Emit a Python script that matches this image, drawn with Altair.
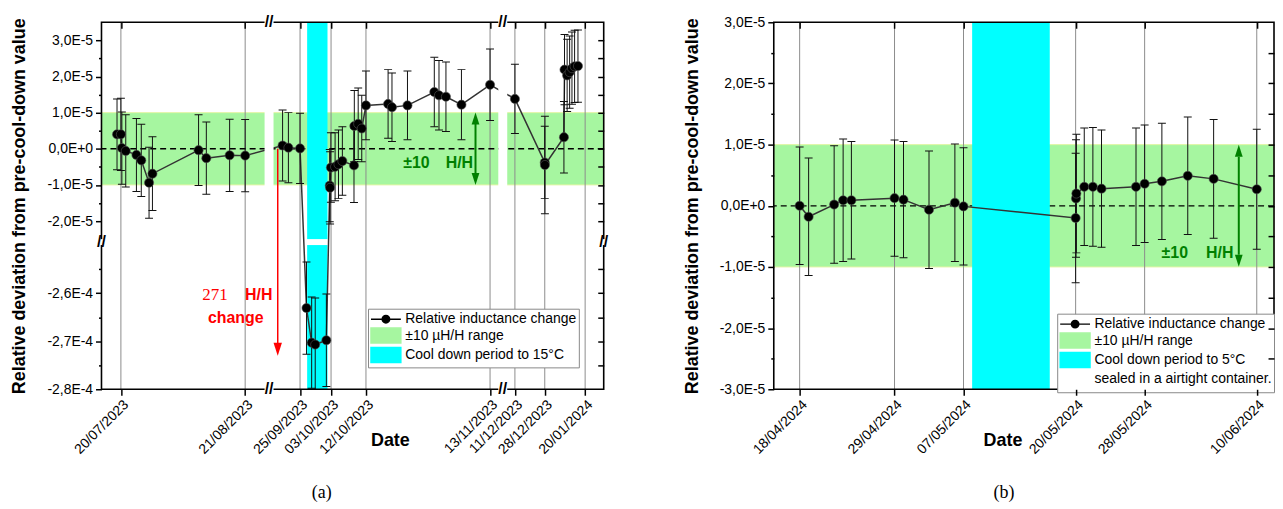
import altair as alt
import pandas as pd
from datetime import datetime, timezone

FONT = "Liberation Sans"
SERIF = "Liberation Serif"
GREEN = "#a6f6a0"
GREEN_EDGE = "#e2f5a4"
CYAN = "#00ffff"
DKGREEN = "#008000"
RED = "#ff0000"
GRID = "#8c8c8c"
E = 1e-5

# ---------------- Panel (a) data (values and errors in units of 1e-5) ----------------
a_dates = [
    "2023-07-19T00:00", "2023-07-20T00:00", "2023-07-20T06:00", "2023-07-21T06:00",
    "2023-07-24T00:00", "2023-07-25T06:00", "2023-07-27T06:00", "2023-07-28T03:00",
    "2023-08-09T00:00", "2023-08-11T00:00", "2023-08-17T00:00", "2023-08-21T00:00",
    "2023-09-20T12:00", "2023-09-22T00:00", "2023-09-25T00:00",
    "2023-09-26T16:00", "2023-09-28T00:00", "2023-09-28T22:00", "2023-10-01T19:00",
    "2023-10-02T16:00", "2023-10-02T18:00", "2023-10-02T23:00",
    "2023-10-04T01:00", "2023-10-04T22:00", "2023-10-05T22:00",
    "2023-10-08T22:00", "2023-10-09T00:00", "2023-10-10T00:00", "2023-10-10T22:00",
    "2023-10-12T00:00", "2023-10-17T17:00", "2023-10-18T17:00", "2023-10-22T17:00",
    "2023-10-29T15:00", "2023-10-30T20:00", "2023-11-01T15:00", "2023-11-05T15:00",
    "2023-11-13T00:00",
    "2023-12-11T00:00", "2023-12-28T00:00", "2023-12-28T02:00",
    "2024-01-07T22:00", "2024-01-08T06:00", "2024-01-09T18:00", "2024-01-11T04:00",
    "2024-01-12T12:00", "2024-01-14T00:00", "2024-01-15T22:00",
]
a_values = [
    0.40, 0.40, 0.02, -0.06,
    -0.17, -0.32, -0.94, -0.69,
    -0.04, -0.26, -0.18, -0.19,
    0.09, 0.03, 0.01,
    -26.31, -27.03, -27.07, -26.98,
    -1.02, -1.08, -0.52,
    -0.50, -0.43, -0.34,
    -0.46, 0.63, 0.69, 0.56,
    1.20, 1.24, 1.15, 1.20,
    1.57, 1.48, 1.44, 1.22,
    1.77,
    1.38, -0.38, -0.45,
    0.32, 2.19, 2.03, 2.12,
    2.23, 2.28, 2.29,
]
a_errors = [
    0.98, 1.00, 1.00, 1.00,
    1.01, 1.00, 0.98, 1.02,
    0.98, 1.00, 1.00, 1.00,
    0.98, 0.97, 0.97,
    0.96, 0.95, 0.97, 0.96,
    1.00, 1.00, 0.96,
    0.94, 0.95, 0.95,
    1.03, 0.98, 0.99, 0.92,
    0.95, 0.95, 0.95, 0.95,
    0.96, 0.96, 0.96, 0.97,
    0.99,
    0.96, 1.00, 1.35,
    0.99, 0.97, 1.00, 1.00,
    1.00, 1.00, 1.00,
]
a_ticks = ["2023-07-20T00:00", "2023-08-21T00:00", "2023-09-25T00:00", "2023-10-03T00:00",
           "2023-10-12T00:00", "2023-11-13T00:00", "2023-12-11T00:00", "2023-12-28T00:00",
           "2024-01-20T00:00"]
# broken x axis: segment limits and their pixel positions (piecewise scale)
a_x_breaks = ["2023-07-15T00:00", "2023-08-26T00:00", "2023-09-18T04:00",
              "2023-11-15T03:00", "2023-12-06T15:00", "2024-01-30T14:00"]
a_x_pixels = [0, 164, 173, 399, 408, 505]
# broken y axis
a_y_breaks = [-28.0, -25.0, -2.5, 3.5]
a_y_pixels = [369, 224, 218, 0]
a_y_major = [-28, -27, -26, -2, -1, 0, 1, 2, 3]
a_y_minor = [-27.5, -26.5, -25.5, -1.5, -0.5, 0.5, 1.5, 2.5]
a_y_right = [-27.5, -27, -26.5, -26, -25.5, -2, -1.5, -1, -0.5, 0, 0.5, 1, 1.5, 2, 2.5, 3]
a_cool = ["2023-09-26T20:00", "2023-10-02T02:00"]
a_legend = ["Relative inductance change", "\u00b110 \u00b5H/H range", "Cool down period to 15\u00b0C"]

# ---------------- Panel (b) data ----------------
b_dates = [
    "2024-04-18T00:00", "2024-04-19T01:00", "2024-04-22T00:00", "2024-04-23T01:00",
    "2024-04-24T00:00", "2024-04-29T00:00", "2024-04-30T01:00", "2024-05-03T00:00",
    "2024-05-06T00:00", "2024-05-07T00:00", "2024-05-20T00:00", "2024-05-20T01:00",
    "2024-05-20T02:00", "2024-05-21T00:00", "2024-05-22T00:00", "2024-05-23T00:00",
    "2024-05-27T00:00", "2024-05-28T00:00", "2024-05-30T00:00", "2024-06-02T00:00",
    "2024-06-05T00:00", "2024-06-10T00:00",
]
b_values = [0.0, -0.18, 0.02, 0.09, 0.09, 0.125, 0.10, -0.065, 0.05, -0.01, -0.20, 0.12,
            0.20, 0.31, 0.31, 0.28, 0.31, 0.36, 0.40, 0.49, 0.44, 0.27]
b_errors = [0.96, 0.96, 0.96, 1.00, 0.96, 0.95, 0.95, 0.96, 0.96, 0.96, 1.06, 0.96,
            0.97, 0.96, 0.97, 0.96, 0.96, 0.96, 0.95, 0.96, 0.97, 0.98]
b_ticks = ["2024-04-18T00:00", "2024-04-29T00:00", "2024-05-07T00:00", "2024-05-20T00:00",
           "2024-05-28T00:00", "2024-06-10T00:00"]
b_x_domain = ["2024-04-15T00:00", "2024-06-12T00:00"]
b_x_pixels = [0, 503]
b_y_domain = [-3.0, 3.0]
b_y_pixels = [369, 0]
b_y_major = [-3, -2, -1, 0, 1, 2, 3]
b_y_minor = [-2.5, -1.5, -0.5, 0.5, 1.5, 2.5]
b_y_right = [-2.5, -2, -1.5, -1, -0.5, 0, 0.5, 1, 1.5, 2, 2.5]
b_cool = ["2024-05-08T00:00", "2024-05-17T00:00"]
b_legend = ["Relative inductance change", "\u00b110 \u00b5H/H range",
            "Cool down period to 5\u00b0C", "sealed in a airtight container."]

Y_TITLE = "Relative deviation from pre-cool-down value"
YLAB = "replace(replace(upper(format(datum.value, '.1e')), '.', ','), '\u2212', '-')"
XLAB = "utcFormat(datum.value, '%d/%m/%Y')"

LINE_DOT = "M-2,0H2M0.5,0A0.5,0.5,0,1,1,-0.5,0A0.5,0.5,0,1,1,0.5,0Z"
RECT = "M-2,-1H2V1H-2Z"
UP = "M0,-1L-0.65,1L0.65,1Z"
DOWN = "M0,1L-0.65,-1L0.65,-1Z"


def ms(s):
    """date string -> epoch milliseconds (UTC), used as the continuous time value"""
    return datetime.strptime(s, "%Y-%m-%dT%H:%M").replace(tzinfo=timezone.utc).timestamp() * 1000


def points_df(dates, vals, errs):
    return pd.DataFrame({
        "date": [ms(d) for d in dates],
        "v": [v * E for v in vals],
        "lo": [(v - e) * E for v, e in zip(vals, errs)],
        "hi": [(v + e) * E for v, e in zip(vals, errs)],
        "idx": list(range(len(dates))),
    })


def caps_df(pts):
    lo = pd.DataFrame({"date": pts["date"], "c": pts["lo"]})
    hi = pd.DataFrame({"date": pts["date"], "c": pts["hi"]})
    return pd.concat([lo, hi], ignore_index=True)


def build_panel(pts, xs, ys, x0, x1, y0, y1, ticks, ymaj, ymin, yright, cool,
                title_x, legend_labels, legend_colors, legend_shapes, lx, ly, extra):
    X = lambda f, axis=None: alt.X(f, scale=xs, axis=axis)
    Y = lambda f, axis=None: alt.Y(f, scale=ys, axis=axis)
    tick_ms = [ms(t) for t in ticks]

    x_bottom = alt.Axis(values=tick_ms, labelExpr=XLAB, labelAngle=-45,
                        labelFont=FONT, labelFontSize=14, labelColor="black",
                        labelOverlap=False, labelPadding=2, grid=False, domain=False,
                        ticks=True, tickSize=6, tickWidth=1.5, tickColor="black",
                        title="Date", titleFont=FONT, titleFontSize=18, titleFontWeight="bold",
                        titleColor="black", titleX=title_x, titleY=52, titleAlign="center",
                        titleBaseline="middle", orient="bottom", zindex=1)
    x_top = alt.Axis(values=tick_ms, orient="top", labels=False, grid=False,
                     domain=False, ticks=True, tickSize=6, tickWidth=1.5, tickColor="black",
                     offset=-6, title=None, zindex=1)
    y_left = alt.Axis(values=[v * E for v in ymaj], labelExpr=YLAB, orient="left", grid=False,
                      domain=False, tickSize=6, tickWidth=1.5, tickColor="black",
                      labelFont=FONT, labelFontSize=14, labelColor="black", labelPadding=3,
                      title=Y_TITLE, titleFont=FONT, titleFontSize=18, titleFontWeight="bold",
                      titleColor="black", titlePadding=18, zindex=1)
    y_minor = alt.Axis(values=[v * E for v in ymin], orient="left", labels=False, grid=False,
                       domain=False, tickSize=3, tickWidth=1.5, tickColor="black",
                       title=None, zindex=1)
    y_right = alt.Axis(values=[v * E for v in yright], orient="right", labels=False, grid=False,
                       domain=False, tickSize=6, tickWidth=1.5, tickColor="black",
                       offset=-6, title=None, zindex=1)

    band = pd.DataFrame({"x0": [x0], "x1": [x1], "y0": [-E], "y1": [E]})
    green = alt.Chart(band).mark_rect(color=GREEN, stroke=GREEN_EDGE, strokeWidth=1).encode(
        x=X("x0:Q", x_bottom), x2=alt.X2("x1"), y=Y("y0:Q", y_left), y2=alt.Y2("y1"))

    grid = alt.Chart(pd.DataFrame({"t": tick_ms})).mark_rule(color=GRID, strokeWidth=1).encode(
        x=X("t:Q"))

    zero = alt.Chart(pd.DataFrame({"y": [0.0]})).mark_rule(
        color="black", strokeDash=[6, 4], strokeWidth=1.3).encode(y=Y("y:Q"))

    cdf = pd.DataFrame({"x0": [ms(cool[0])], "x1": [ms(cool[1])], "y0": [y0], "y1": [y1]})
    cyan = alt.Chart(cdf).mark_rect(color=CYAN, opacity=1).encode(
        x=X("x0:Q", x_top), x2=alt.X2("x1"), y=Y("y0:Q", y_minor), y2=alt.Y2("y1"))

    line = alt.Chart(pts).mark_line(color="#333333", strokeWidth=1.5, clip=True).encode(
        x=X("date:Q"), y=Y("v:Q", y_right), order="idx:Q")
    err = alt.Chart(pts).mark_rule(color="#111111", strokeWidth=1, clip=True).encode(
        x=X("date:Q"), y=Y("lo:Q"), y2=alt.Y2("hi"))
    caps = alt.Chart(caps_df(pts)).mark_tick(orient="horizontal", size=8, thickness=1,
                                             color="#111111", opacity=1, clip=True).encode(
        x=X("date:Q"), y=Y("c:Q"))
    dots = alt.Chart(pts).mark_circle(size=85, color="black", opacity=1, stroke="#555555",
                                      strokeWidth=0.6, clip=True).encode(
        x=X("date:Q"), y=Y("v:Q"))

    frame_df = pd.DataFrame({"x0": [x0], "x1": [x1], "y0": [y0], "y1": [y1]})
    frame = alt.Chart(frame_df).mark_rect(filled=False, color="black", strokeWidth=1.6).encode(
        x=X("x0:Q"), x2=alt.X2("x1"), y=Y("y0:Q"), y2=alt.Y2("y1"))

    lg = alt.Legend(title=None, orient="none", legendX=lx, legendY=ly, direction="vertical",
                    symbolSize=225, symbolStrokeWidth=1.5, symbolOffset=7.5, labelOffset=11,
                    labelFont=FONT, labelFontSize=14, labelColor="black", labelLimit=400,
                    rowPadding=-1.5, padding=2, strokeColor="#888888", fillColor="white",
                    cornerRadius=0, symbolOpacity=1)
    n = len(legend_labels)
    ldf = pd.DataFrame({"item": legend_labels, "x": [None] * n, "y": [None] * n})
    leg = alt.Chart(ldf).mark_point(filled=True, opacity=1, strokeWidth=1.5, size=225).encode(
        x=X("x:Q"), y=Y("y:Q"),
        color=alt.Color("item:N", scale=alt.Scale(domain=legend_labels, range=legend_colors), legend=lg),
        stroke=alt.Stroke("item:N", scale=alt.Scale(domain=legend_labels, range=legend_colors), legend=lg),
        shape=alt.Shape("item:N", scale=alt.Scale(domain=legend_labels, range=legend_shapes), legend=lg),
    )

    layers = [green, grid, zero, cyan] + extra["under"](X, Y) + [line, err, caps, dots, frame] \
        + extra["over"](X, Y) + [leg]
    return alt.layer(*layers).resolve_axis(x="independent", y="independent")


def text_layer(X, Y, xs_, ys_, texts, color, font, size, weight):
    df = pd.DataFrame({"x": [ms(v) for v in xs_], "y": [v * E for v in ys_], "t": texts})
    return alt.Chart(df).mark_text(color=color, font=font, fontSize=size, fontWeight=weight).encode(
        x=X("x:Q"), y=Y("y:Q"), text="t:N")


def arrow_head(X, Y, x, y, path, color, size):
    df = pd.DataFrame({"x": [ms(x)], "y": [y * E]})
    return alt.Chart(df).mark_point(shape=path, filled=True, color=color, opacity=1,
                                    size=size, strokeWidth=0).encode(x=X("x:Q"), y=Y("y:Q"))


def vrule(X, Y, x, ya, yb, color, width):
    df = pd.DataFrame({"x": [ms(x)], "ya": [ya * E], "yb": [yb * E]})
    return alt.Chart(df).mark_rule(color=color, strokeWidth=width).encode(
        x=X("x:Q"), y=Y("ya:Q"), y2=alt.Y2("yb"))


# ---------------- Build panel (a) ----------------
pts_a = points_df(a_dates, a_values, a_errors)
xs_a = alt.Scale(type="linear", domain=[ms(s) for s in a_x_breaks], range=a_x_pixels,
                 nice=False, zero=False)
ys_a = alt.Scale(type="linear", domain=[v * E for v in a_y_breaks], range=a_y_pixels,
                 nice=False, zero=False)


def a_under(X, Y):
    ygap = pd.DataFrame({"x0": [ms("2023-09-25T16:00")], "x1": [ms("2023-10-02T12:00")],
                         "y0": [a_y_breaks[1] * E], "y1": [a_y_breaks[2] * E]})
    white_y = alt.Chart(ygap).mark_rect(color="white", opacity=1).encode(
        x=X("x0:Q"), x2=alt.X2("x1"), y=Y("y0:Q"), y2=alt.Y2("y1"))
    return [white_y]


def a_over(X, Y):
    gaps = pd.DataFrame({"x0": [ms(a_x_breaks[1]), ms(a_x_breaks[3])],
                         "x1": [ms(a_x_breaks[2]), ms(a_x_breaks[4])],
                         "y0": [a_y_breaks[-1] * E] * 2, "y1": [a_y_breaks[0] * E] * 2})
    white_x = alt.Chart(gaps).mark_rect(color="white", opacity=1, yOffset=-3, y2Offset=3).encode(
        x=X("x0:Q"), x2=alt.X2("x1"), y=Y("y0:Q"), y2=alt.Y2("y1"))
    edge = pd.DataFrame({"x": [ms(a_x_breaks[0]), ms(a_x_breaks[-1])],
                         "y0": [a_y_breaks[1] * E] * 2, "y1": [a_y_breaks[2] * E] * 2})
    white_e = alt.Chart(edge).mark_rect(color="white", opacity=1, xOffset=-3, x2Offset=3).encode(
        x=X("x:Q"), x2=alt.X2("x"), y=Y("y0:Q"), y2=alt.Y2("y1"))
    brk = pd.DataFrame({
        "x": [ms("2023-09-06T14:00"), ms("2023-09-06T14:00"), ms("2023-11-25T21:00"),
              ms("2023-11-25T21:00"), ms(a_x_breaks[0]), ms(a_x_breaks[-1])],
        "y": [3.5 * E, -28 * E, 3.5 * E, -28 * E, -13.75 * E, -13.75 * E],
    })
    marks = alt.Chart(brk).mark_text(text="//", font=FONT, fontSize=16, fontWeight="bold",
                                     color="black").encode(x=X("x:Q"), y=Y("y:Q"))
    red_x = "2023-09-19T06:00"
    return [
        white_x, white_e, marks,
        vrule(X, Y, red_x, 0.0, -27.2, RED, 1.5),
        arrow_head(X, Y, red_x, -27.168, DOWN, RED, 169),
        text_layer(X, Y, ["2023-08-13T05:00"], [-26.035], ["271"], RED, SERIF, 17, "normal"),
        text_layer(X, Y, ["2023-08-24T12:00"], [-26.035], ["H/H"], RED, FONT, 16, "bold"),
        text_layer(X, Y, ["2023-08-18T14:00"], [-26.51], ["change"], RED, FONT, 16, "bold"),
        vrule(X, Y, "2023-11-09T06:00", -0.8, 0.8, DKGREEN, 2),
        arrow_head(X, Y, "2023-11-09T06:00", 0.835, UP, DKGREEN, 144),
        arrow_head(X, Y, "2023-11-09T06:00", -0.835, DOWN, DKGREEN, 144),
        text_layer(X, Y, ["2023-10-25T00:00"], [-0.39], ["\u00b110"], DKGREEN, FONT, 16, "bold"),
        text_layer(X, Y, ["2023-11-05T02:00"], [-0.39], ["H/H"], DKGREEN, FONT, 16, "bold"),
    ]


panel_a = build_panel(
    pts_a, xs_a, ys_a, ms(a_x_breaks[0]), ms(a_x_breaks[-1]), a_y_breaks[0] * E, a_y_breaks[-1] * E,
    a_ticks, a_y_major, a_y_minor, a_y_right, a_cool, 290,
    a_legend, ["black", GREEN, CYAN], [LINE_DOT, RECT, RECT], 268, 288,
    {"under": a_under, "over": a_over},
).properties(width=505, height=369,
             title=alt.TitleParams("(a)", orient="bottom", font=SERIF, fontSize=18,
                                   fontWeight="normal", color="black", anchor="middle",
                                   offset=28, dx=-31))

# ---------------- Build panel (b) ----------------
pts_b = points_df(b_dates, b_values, b_errors)
xs_b = alt.Scale(type="linear", domain=[ms(s) for s in b_x_domain], range=b_x_pixels,
                 nice=False, zero=False)
ys_b = alt.Scale(type="linear", domain=[v * E for v in b_y_domain], range=b_y_pixels,
                 nice=False, zero=False)


def b_under(X, Y):
    return []


def b_over(X, Y):
    ax = "2024-06-07T22:00"
    return [
        vrule(X, Y, ax, -0.8, 0.8, DKGREEN, 2),
        arrow_head(X, Y, ax, 0.9, UP, DKGREEN, 144),
        arrow_head(X, Y, ax, -0.9, DOWN, DKGREEN, 144),
        text_layer(X, Y, ["2024-05-31T12:00"], [-0.78], ["\u00b110"], DKGREEN, FONT, 16, "bold"),
        text_layer(X, Y, ["2024-06-05T17:00"], [-0.78], ["H/H"], DKGREEN, FONT, 16, "bold"),
    ]


panel_b = build_panel(
    pts_b, xs_b, ys_b, ms(b_x_domain[0]), ms(b_x_domain[-1]), b_y_domain[0] * E, b_y_domain[-1] * E,
    b_ticks, b_y_major, b_y_minor, b_y_right, b_cool, 230,
    b_legend, ["black", GREEN, CYAN, "#ffffff"], [LINE_DOT, RECT, RECT, RECT], 285, 293,
    {"under": b_under, "over": b_over},
).properties(width=503, height=369,
             title=alt.TitleParams("(b)", orient="bottom", font=SERIF, fontSize=18,
                                   fontWeight="normal", color="black", anchor="middle",
                                   offset=28, dx=-20))

chart = alt.hconcat(panel_a, panel_b, spacing=75).resolve_scale(
    color="independent", stroke="independent", shape="independent"
).resolve_legend(
    color="independent", stroke="independent", shape="independent"
).configure_view(stroke=None).properties(
    padding={"left": 3, "top": 5, "right": 0, "bottom": 0}, background="white"
)

chart.save("out.html", embed_options={"renderer": "svg", "actions": False})
